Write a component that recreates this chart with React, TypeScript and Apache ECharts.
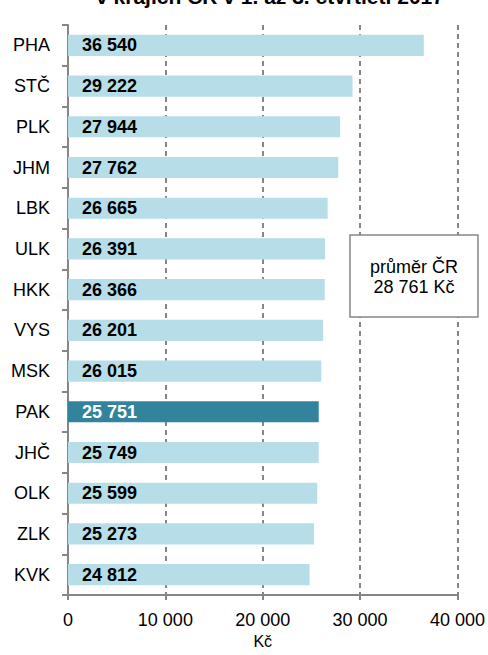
import React, { useEffect, useRef } from "react";
import * as echarts from "echarts";

const categories = ["PHA", "STČ", "PLK", "JHM", "LBK", "ULK", "HKK", "VYS", "MSK", "PAK", "JHČ", "OLK", "ZLK", "KVK"];
const values = [36540, 29222, 27944, 27762, 26665, 26391, 26366, 26201, 26015, 25751, 25749, 25599, 25273, 24812];
const highlight = "PAK";
const xTicks = [0, 10000, 20000, 30000, 40000];
const titleText = "v krajích ČR v 1. až 3. čtvrtletí 2017";
const noteLines = ["průměr ČR", "28 761 Kč"];
const axisName = "Kč";

const fmt = (v: number) => String(v).replace(/\B(?=(\d{3})+(?!\d))/g, " ");

export default function App() {
  const ref = useRef<HTMLDivElement>(null);
  useEffect(() => {
    const chart = echarts.init(ref.current!, null, { renderer: "svg" });
    const font = "'Liberation Sans', Arial, sans-serif";
    const cats = [...categories].reverse();
    const vals = [...values].reverse();
    chart.setOption({
      animation: false,
      textStyle: { fontFamily: font },
      grid: { left: 68, right: 29, top: 25, bottom: 60, containLabel: false },
      xAxis: {
        type: "value",
        min: xTicks[0],
        max: xTicks[xTicks.length - 1],
        interval: 10000,
        name: axisName,
        nameLocation: "middle",
        nameGap: 38,
        nameTextStyle: { color: "#000", fontSize: 16, fontFamily: font },
        axisLine: { show: true, lineStyle: { color: "#868686", width: 2 } },
        axisTick: { show: true, length: 5, lineStyle: { color: "#868686", width: 2 } },
        axisLabel: { color: "#000", fontSize: 18, fontFamily: font, margin: 16, formatter: (v: number) => fmt(v) },
        splitLine: {
          show: true,
          lineStyle: { color: "#868686", type: [5, 4], width: 2 },
        },
      },
      yAxis: {
        type: "category",
        data: cats,
        axisLine: { show: true, lineStyle: { color: "#868686", width: 2 } },
        axisTick: { show: true, length: 6, lineStyle: { color: "#868686", width: 2 } },
        axisLabel: { color: "#000", fontSize: 18, fontFamily: font, margin: 18 },
      },
      series: [
        {
          type: "bar",
          barCategoryGap: "48%",
          data: vals.map((v, i) => ({
            value: v,
            itemStyle: { color: cats[i] === highlight ? "#31849b" : "#b7dde8" },
            label: { color: cats[i] === highlight ? "#fff" : "#000" },
          })),
          label: {
            show: true,
            position: "insideLeft",
            distance: 14,
            fontSize: 18,
            fontWeight: "bold",
            fontFamily: font,
            formatter: (p: any) => fmt(p.value),
          },
        },
      ],
      graphic: [
        {
          type: "text",
          x: 270,
          y: -4,
          style: {
            text: titleText,
            fontSize: 21,
            fontWeight: "bold",
            fontFamily: font,
            fill: "#000",
            align: "center",
            verticalAlign: "middle",
          },
        },
        {
          type: "rect",
          shape: { x: 350, y: 235, width: 128, height: 82 },
          style: { fill: "#fff", stroke: "#868686", lineWidth: 1.5 },
          z: 10,
        },
        {
          type: "text",
          x: 414,
          y: 277,
          z: 11,
          style: {
            text: noteLines.join("\n"),
            fontSize: 18,
            lineHeight: 20,
            fontFamily: font,
            fill: "#000",
            align: "center",
            verticalAlign: "middle",
          },
        },
      ],
    });
    return () => chart.dispose();
  }, []);
  return <div ref={ref} style={{ width: 488, height: 655, position: "absolute", left: 0, top: 0 }} />;
}
